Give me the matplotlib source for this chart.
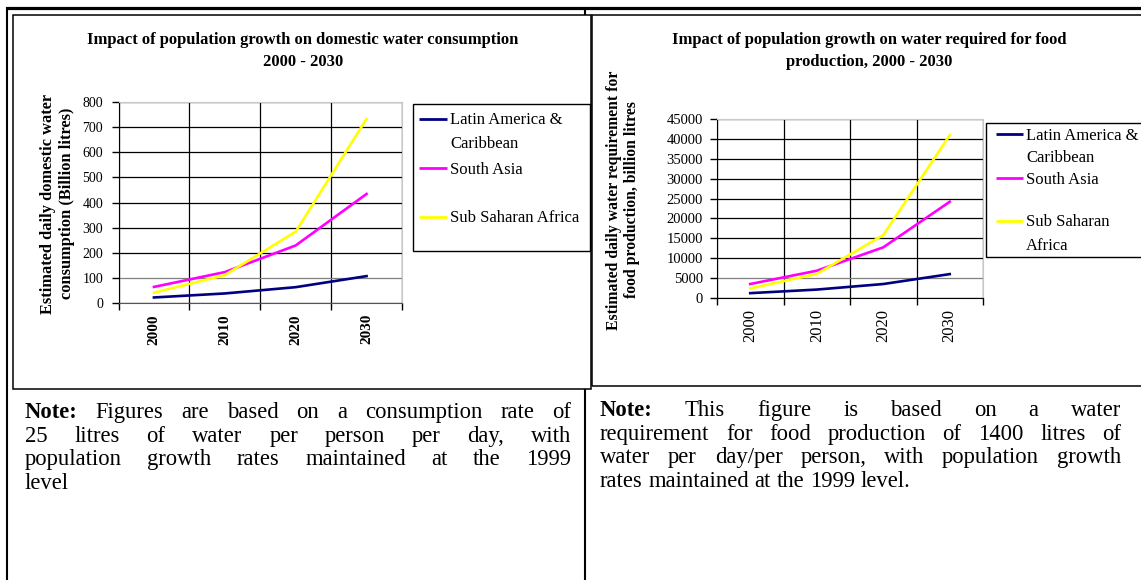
import matplotlib
matplotlib.use('Agg')
import matplotlib.pyplot as plt
from matplotlib.lines import Line2D

# 数据
years = ['2000', '2010', '2020', '2030']
series_names = ['Latin America &\nCaribbean', 'South Asia', 'Sub Saharan Africa']
series_names_2 = ['Latin America &\nCaribbean', 'South Asia', 'Sub Saharan\nAfrica']
colors = ['#000080', '#ff00ff', '#ffff00']

domestic_latam = [22, 38, 63, 107]
domestic_sasia = [64, 123, 229, 434]
domestic_ssa = [41, 111, 284, 733]

food_latam = [1150, 2050, 3450, 5950]
food_sasia = [3450, 6800, 12700, 24200]
food_ssa = [2350, 6000, 15800, 41000]

title_1 = 'Impact of population growth on domestic water consumption\n2000 - 2030'
title_2 = 'Impact of population growth on water required for food\nproduction, 2000 - 2030'
ylabel_1 = 'Estimated daily domestic water\nconsumption (Billion litres)'
ylabel_2 = 'Estimated daily water requirement for\nfood production, billion litres'

note_1 = [['Note:', 'Figures', 'are', 'based', 'on', 'a', 'consumption', 'rate', 'of'],
          ['25', 'litres', 'of', 'water', 'per', 'person', 'per', 'day,', 'with'],
          ['population', 'growth', 'rates', 'maintained', 'at', 'the', '1999'],
          ['level']]
note_2 = [['Note:', 'This', 'figure', 'is', 'based', 'on', 'a', 'water'],
          ['requirement', 'for', 'food', 'production', 'of', '1400', 'litres', 'of'],
          ['water', 'per', 'day/per', 'person,', 'with', 'population', 'growth'],
          ['rates', 'maintained', 'at', 'the', '1999', 'level.']]

W, H = 1141, 580
plt.rcParams['font.family'] = ['Liberation Serif', 'DejaVu Serif']


def fx(x):
    return x / W


def fy(y):
    return 1 - y / H


fig = plt.figure(figsize=(W / 100, H / 100), dpi=100)


def line(x0, y0, x1, y1, lw, color='black'):
    fig.add_artist(Line2D([fx(x0), fx(x1)], [fy(y0), fy(y1)], transform=fig.transFigure,
                          lw=lw, color=color, solid_capstyle='butt'))


def chart(rect, data, ymax, ystep, bold_x, tick_size, xtick_size, xpad, ypad):
    l, t, r, b = rect
    ax = fig.add_axes([fx(l), fy(b), (r - l) / W, (b - t) / H])
    xs = range(len(years))
    for vals, c in zip(data, colors):
        ax.plot(xs, vals, color=c, lw=1.9, solid_joinstyle='miter')
    ax.set_xlim(-0.5, len(years) - 0.5)
    ax.set_ylim(0, ymax)
    ax.set_yticks(range(0, ymax + 1, ystep))
    ax.set_xticks([i - 0.5 for i in range(len(years) + 1)])
    ax.set_xticklabels([])
    ax.set_xticks(list(xs), minor=True)
    ax.set_xticklabels(years, minor=True, rotation=90, fontsize=xtick_size,
                       fontweight='bold' if bold_x else 'normal')
    ax.tick_params(axis='x', which='minor', length=0, pad=xpad)
    ax.tick_params(axis='x', which='major', direction='out', length=5, width=1)
    ax.tick_params(axis='y', direction='out', length=5, width=1, labelsize=tick_size, pad=ypad)
    ax.grid(True, which='major', color='black', lw=0.9)
    ax.set_axisbelow(True)
    for s in ['top', 'right']:
        ax.spines[s].set_color('#c8c8c8')
    ax.spines['left'].set_color('black')
    ax.spines['bottom'].set_color('#555555')
    ax.get_ygridlines()[1].set_color('#808080')
    return ax


def legend(names, x_line, x_text, ys, box):
    l, t, r, b = box
    fig.add_artist(plt.Rectangle((fx(l), fy(b)), (r - l) / W, (b - t) / H, transform=fig.transFigure,
                                 fill=False, edgecolor='black', lw=1))
    for name, c, y in zip(names, colors, ys):
        line(x_line[0], y, x_line[1], y, 2.0, c)
        for k, part in enumerate(name.split('\n')):
            fig.text(fx(x_text), fy(y + 5.5 + 23 * k), part, fontsize=12, ha='left', va='baseline')


# 外框
line(6, 8, W, 8, 2.3)
line(6.5, 7, 6.5, H, 1.5)
line(585, 7, 585, 15, 1.5)
line(585, 389, 585, H, 1.5)
fig.add_artist(plt.Rectangle((fx(13), fy(389)), (591 - 13) / W, (389 - 15) / H, transform=fig.transFigure,
                             fill=False, edgecolor='black', lw=1.1))
fig.add_artist(plt.Rectangle((fx(592), fy(386)), (W + 5 - 592) / W, (386 - 15) / H, transform=fig.transFigure,
                             fill=False, edgecolor='black', lw=1.1))

# 图1
chart((118.5, 102, 402, 303), [domestic_latam, domestic_sasia, domestic_ssa], 800, 100,
      True, 10, 11, 8, 6)
fig.text(fx(303), fy(51.5), title_1, fontsize=12, fontweight='bold', ha='center', va='center',
         linespacing=1.5)
fig.text(fx(57.5), fy(203.5), ylabel_1, fontsize=11.8, fontweight='bold', rotation=90,
         ha='center', va='center', multialignment='center', linespacing=1.3)
legend(series_names, (419, 447), 450, [119, 168, 217], (413, 104, 590, 251))

# 图2
ax2 = chart((717, 119.3, 983, 297.7), [food_latam, food_sasia, food_ssa], 45000, 5000,
            False, 10.5, 12, 8, 5)
ax2.spines['bottom'].set_color('black')
fig.text(fx(869), fy(51.5), title_2, fontsize=12, fontweight='bold', ha='center', va='center',
         linespacing=1.5)
fig.text(fx(623), fy(200), ylabel_2, fontsize=11.3, fontweight='bold', rotation=90,
         ha='center', va='center', multialignment='center', linespacing=1.15)
legend(series_names_2, (996, 1023), 1026, [134, 178, 221], (986, 122.7, W + 5, 257))

# 注释文字（两端对齐）
renderer = fig.canvas.get_renderer()
NOTE_SIZE = 16.3


def note(lines, x0, x1, y0, step):
    for i, words in enumerate(lines):
        y = y0 + i * step
        texts = []
        for w in words:
            wt = 'bold' if w == 'Note:' else 'normal'
            texts.append(fig.text(0, fy(y), w, fontsize=NOTE_SIZE, fontweight=wt, va='baseline'))
        widths = [t.get_window_extent(renderer).width for t in texts]
        if i < len(lines) - 1:
            gap = (x1 - x0 - sum(widths)) / (len(words) - 1)
        else:
            gap = 0.25 * NOTE_SIZE * 100 / 72
        x = x0
        for t, w in zip(texts, widths):
            t.set_x(fx(x))
            x += w + gap


note(note_1, 25, 571, 418, 23.7)
note(note_2, 600, 1121, 416, 23.7)

fig.savefig('out.png', dpi=100)
